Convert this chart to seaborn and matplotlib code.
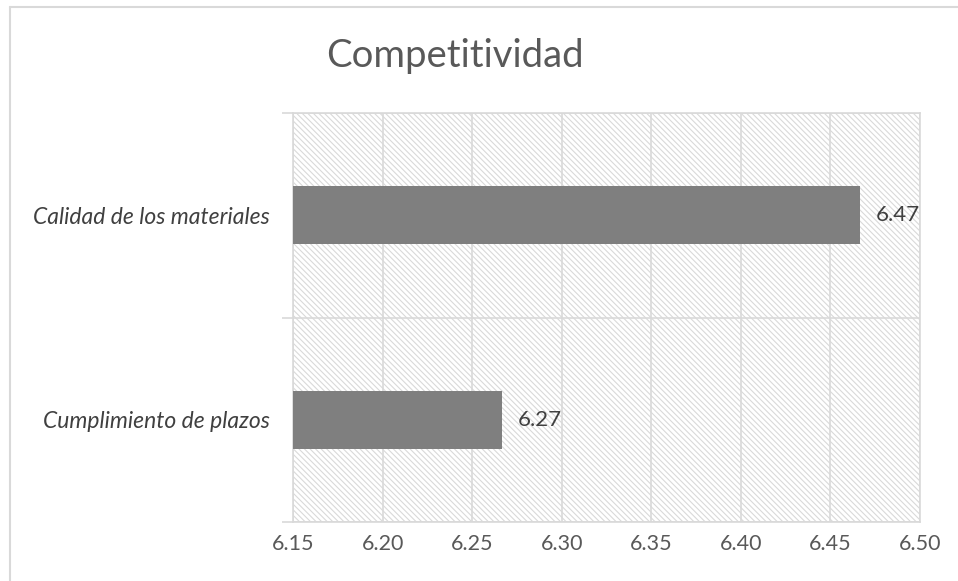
import matplotlib
matplotlib.use("Agg")
import matplotlib.pyplot as plt
import seaborn as sns
import pandas as pd
from matplotlib.lines import Line2D

categories = ["Calidad de los materiales", "Cumplimiento de plazos"]
values = [6.4667, 6.2667]
x_ticks = [6.15, 6.20, 6.25, 6.30, 6.35, 6.40, 6.45, 6.50]
title = "Competitividad"

sns.set_theme(style="white")
plt.rcParams['font.family'] = ['Lato', 'DejaVu Sans']
plt.rcParams['hatch.color'] = '#d9d9d9'
plt.rcParams['hatch.linewidth'] = 0.8

df = pd.DataFrame({"cat": categories, "val": values})

W, H = 958, 581
fig = plt.figure(figsize=(W / 100, H / 100), dpi=100)
fig.patch.set_facecolor('white')
ax = fig.add_axes([293 / W, 1 - 522 / H, (920 - 293) / W, (522 - 113) / H])

ax.patch.set_facecolor('white')
ax.patch.set_hatch('\\' * 6)
ax.patch.set_edgecolor('#d9d9d9')

sns.barplot(data=df, x="val", y="cat", orient="h", color="#7f7f7f",
            width=0.285, saturation=1, ax=ax, zorder=3)
for p in ax.patches:
    p.set_edgecolor('none')

ax.set_xlim(x_ticks[0], x_ticks[-1])
ax.set_ylim(1.5, -0.5)
ax.set_xticks(x_ticks)
ax.set_xticklabels([f"{t:.2f}" for t in x_ticks])
ax.set_xlabel("")
ax.set_ylabel("")
ax.grid(axis='x', color='#d9d9d9', linewidth=1.2, zorder=1)
ax.set_axisbelow(True)
for yb in [-0.5, 0.5, 1.5]:
    ax.axhline(yb, color='#d9d9d9', linewidth=1.2, zorder=2)
ax.set_yticks([0, 1])
ax.set_yticklabels(categories, fontstyle='italic', fontsize=16.5, color='#404040')
ax.set_yticks([-0.5, 0.5, 1.5], minor=True)
ax.tick_params(axis='y', which='major', length=0, pad=17)
ax.tick_params(axis='y', which='minor', length=8, width=1.2, color='#d9d9d9', left=True)
ax.tick_params(axis='x', length=0, pad=9, labelsize=15.5, labelcolor='#595959')

for s in ax.spines.values():
    s.set_color('#d9d9d9')
    s.set_linewidth(1.2)

for i, v in enumerate(values):
    ax.text(v + 0.0085, i, f"{v:.2f}", va='center', ha='left',
            fontsize=16, color='#404040', zorder=4)

fig.text(455 / W, 1 - 56 / H, title, ha='center', va='center',
         fontsize=27.5, color='#595959')

fig.add_artist(Line2D([10 / W, 10 / W], [0, 1 - 7 / H], transform=fig.transFigure,
                      color='#d9d9d9', linewidth=1.5))
fig.add_artist(Line2D([10 / W, 1], [1 - 7 / H, 1 - 7 / H], transform=fig.transFigure,
                      color='#d9d9d9', linewidth=1.5))

fig.savefig("out.png", dpi=100, facecolor='white')
